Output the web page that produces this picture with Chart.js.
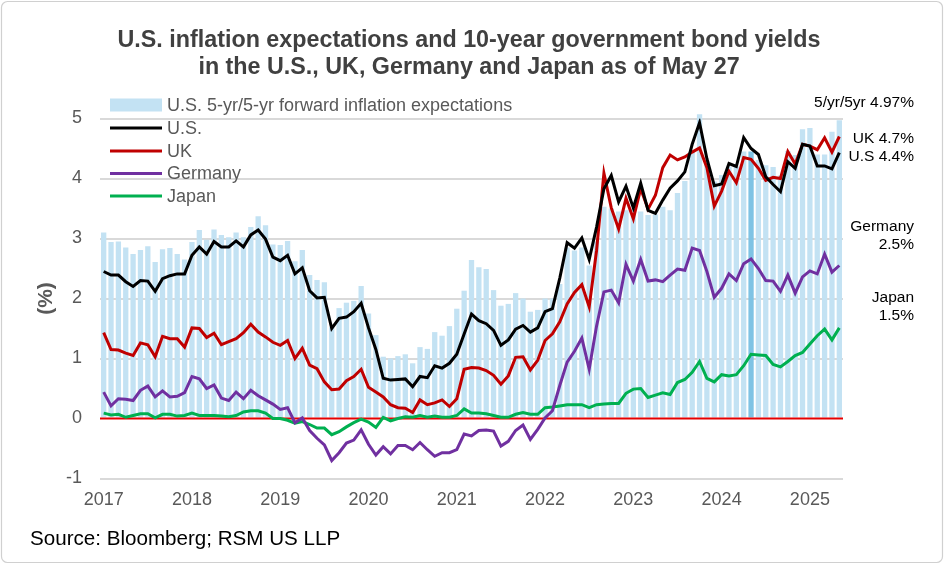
<!DOCTYPE html>
<html><head><meta charset="utf-8">
<script src="https://cdn.jsdelivr.net/npm/chart.js@4.4.1/dist/chart.umd.min.js"></script>
<style>html,body{margin:0;padding:0;background:#fff;} #wrap{position:relative;width:945px;height:565px;}</style>
</head><body><div id="wrap"><canvas id="c" width="945" height="565"></canvas></div>
<script>
// ---- Data ----
const years = ['2017','2018','2019','2020','2021','2022','2023','2024','2025'];
const lastMonth = '2025-05';
const highlightMonth = '2024-05';

const fwdInflation = [
  3.10,2.94,2.95,2.85,2.74,2.81,2.87,2.61,2.82,2.84,2.74,2.65,
  2.94,3.14,2.98,3.15,3.06,3.02,3.10,3.02,3.19,3.37,3.22,2.90,
  2.89,2.96,2.62,2.81,2.39,2.31,2.27,1.52,1.84,1.93,1.96,2.21,
  1.75,1.39,1.03,1.00,1.04,1.07,0.92,1.19,1.16,1.44,1.38,1.54,
  1.83,2.13,2.64,2.52,2.49,2.14,1.88,1.91,2.09,2.00,1.78,1.81,
  2.00,2.00,2.24,2.85,2.80,2.85,2.55,2.95,3.53,3.50,3.45,3.47,
  3.50,3.45,3.39,3.40,3.53,3.47,3.76,3.96,4.45,5.07,4.30,3.95,
  4.06,4.20,4.20,4.45,4.45,4.31,4.22,4.19,4.05,4.46,4.39,4.82,
  4.84,4.40,4.40,4.78,4.97
];
const usYield = [
  2.45,2.39,2.39,2.28,2.20,2.30,2.29,2.12,2.33,2.38,2.41,2.41,
  2.72,2.86,2.74,2.95,2.86,2.86,2.96,2.86,3.06,3.14,2.99,2.69,
  2.63,2.72,2.41,2.51,2.13,2.01,2.02,1.50,1.67,1.69,1.78,1.92,
  1.51,1.15,0.67,0.64,0.65,0.66,0.53,0.70,0.68,0.88,0.84,0.92,
  1.07,1.41,1.74,1.63,1.58,1.47,1.22,1.31,1.49,1.55,1.44,1.51,
  1.78,1.83,2.34,2.93,2.84,3.01,2.65,3.19,3.83,4.05,3.61,3.87,
  3.51,3.92,3.47,3.42,3.64,3.84,3.96,4.11,4.57,4.93,4.33,3.88,
  3.91,4.25,4.20,4.68,4.50,4.40,4.03,3.90,3.78,4.28,4.17,4.57,
  4.54,4.21,4.21,4.16,4.43
];
const ukYield = [
  1.43,1.15,1.14,1.09,1.05,1.26,1.23,1.03,1.37,1.33,1.33,1.19,
  1.51,1.50,1.35,1.42,1.23,1.28,1.33,1.43,1.57,1.44,1.36,1.27,
  1.22,1.30,1.00,1.17,0.89,0.83,0.61,0.48,0.49,0.63,0.70,0.82,
  0.52,0.44,0.36,0.23,0.18,0.17,0.10,0.31,0.23,0.26,0.31,0.20,
  0.33,0.82,0.85,0.84,0.80,0.72,0.57,0.71,1.02,1.03,0.81,0.97,
  1.30,1.41,1.61,1.91,2.10,2.23,1.86,2.80,4.09,3.51,3.16,3.67,
  3.33,3.83,3.49,3.72,4.18,4.39,4.31,4.36,4.44,4.51,4.18,3.54,
  3.79,4.12,3.93,4.35,4.32,4.17,3.97,4.02,4.00,4.45,4.24,4.57,
  4.54,4.48,4.68,4.44,4.70
];
const germanyYield = [
  0.44,0.21,0.33,0.32,0.30,0.47,0.54,0.36,0.46,0.36,0.37,0.43,
  0.70,0.66,0.50,0.56,0.34,0.30,0.44,0.33,0.47,0.38,0.31,0.24,
  0.15,0.18,-0.07,0.01,-0.20,-0.33,-0.44,-0.70,-0.57,-0.41,-0.36,-0.19,
  -0.43,-0.61,-0.47,-0.59,-0.45,-0.45,-0.52,-0.40,-0.52,-0.63,-0.57,-0.57,
  -0.52,-0.26,-0.29,-0.20,-0.19,-0.21,-0.46,-0.38,-0.20,-0.11,-0.35,-0.18,
  0.01,0.13,0.55,0.94,1.12,1.34,0.82,1.54,2.11,2.14,1.93,2.57,
  2.29,2.65,2.29,2.31,2.28,2.39,2.49,2.47,2.84,2.80,2.45,2.02,
  2.17,2.41,2.30,2.58,2.66,2.50,2.30,2.29,2.12,2.39,2.09,2.36,
  2.46,2.41,2.74,2.44,2.55
];
const japanYield = [
  0.09,0.06,0.07,0.02,0.05,0.08,0.08,0.01,0.07,0.07,0.04,0.05,
  0.09,0.05,0.05,0.05,0.04,0.03,0.05,0.11,0.13,0.13,0.09,0.00,
  0.00,-0.03,-0.08,-0.05,-0.10,-0.16,-0.16,-0.27,-0.22,-0.14,-0.07,-0.01,
  -0.06,-0.15,0.02,-0.04,0.00,0.03,0.02,0.05,0.02,0.04,0.02,0.02,
  0.05,0.16,0.09,0.09,0.08,0.05,0.02,0.02,0.07,0.10,0.07,0.07,
  0.18,0.19,0.21,0.23,0.23,0.23,0.18,0.23,0.24,0.25,0.25,0.42,
  0.49,0.50,0.35,0.39,0.43,0.40,0.60,0.65,0.77,0.95,0.67,0.61,
  0.73,0.71,0.73,0.88,1.07,1.06,1.05,0.90,0.86,0.95,1.05,1.10,
  1.24,1.38,1.49,1.31,1.51
];
const seriesNames = ['U.S. 5-yr/5-yr forward inflation expectations','U.S.','UK','Germany','Japan'];
const yTicks = [-1,0,1,2,3,4,5];
const titleLines = ['U.S. inflation expectations and 10-year government bond yields','in the U.S., UK, Germany and Japan as of May 27'];
const endLabels = [['5/yr/5yr 4.97%'],['UK 4.7%'],['U.S 4.4%'],['Germany','2.5%'],['Japan','1.5%']];
const sourceText = 'Source: Bloomberg; RSM US LLP';

// month categories
const months = [];
outer: for (const y of years) {
  for (let m = 1; m <= 12; m++) {
    const k = y + '-' + String(m).padStart(2,'0');
    months.push(k);
    if (k === lastMonth) break outer;
  }
}

const FONT = "'Liberation Sans', Arial, sans-serif";
const GRAY = '#595959';

const decor = {
  id: 'decor',
  beforeDraw(chart) {
    const ctx = chart.ctx;
    ctx.save();
    ctx.fillStyle = '#fff';
    ctx.fillRect(0, 0, chart.width, chart.height);
    ctx.strokeStyle = '#d0d0d0';
    ctx.lineWidth = 1.2;
    ctx.beginPath();
    if (ctx.roundRect) ctx.roundRect(1.5, 1.5, chart.width - 4, chart.height - 4, 6);
    else ctx.rect(1.5, 1.5, chart.width - 4, chart.height - 4);
    ctx.stroke();
    // title
    ctx.font = 'bold 23.3px ' + FONT;
    ctx.fillStyle = '#404040';
    ctx.textAlign = 'center';
    ctx.textBaseline = 'middle';
    titleLines.forEach((t, i) => ctx.fillText(t, 469, 40.5 + i * 27));
    ctx.restore();
  },
  afterDatasetDraw(chart, args) {
    if (args.meta.type !== 'bar') return;
    const ctx = chart.ctx, a = chart.chartArea;
    const y = chart.scales.y.getPixelForValue(0);
    ctx.save();
    ctx.strokeStyle = '#e60000';
    ctx.lineWidth = 2;
    ctx.beginPath();
    ctx.moveTo(a.left, y);
    ctx.lineTo(a.right, y);
    ctx.stroke();
    ctx.restore();
  },
  afterDraw(chart) {
    const ctx = chart.ctx;
    ctx.save();
    // legend
    const ds = chart.data.datasets;
    const rowY = [105, 128, 151, 173.5, 196];
    ctx.font = '18px ' + FONT;
    ctx.textBaseline = 'middle';
    ctx.textAlign = 'left';
    ds.forEach((d, i) => {
      const y = rowY[i];
      if (d.type === 'bar') {
        ctx.fillStyle = '#c3e2f3';
        ctx.fillRect(110, y - 6.5, 52, 13);
      } else {
        ctx.strokeStyle = d.borderColor;
        ctx.lineWidth = 3;
        ctx.beginPath();
        ctx.moveTo(110, y);
        ctx.lineTo(162, y);
        ctx.stroke();
      }
      ctx.fillStyle = GRAY;
      ctx.fillText(d.label, 167, y + 1);
    });
    // end labels
    const pos = [[103], [139], [156.5], [227, 245], [298, 316]];
    ctx.font = '15.5px ' + FONT;
    ctx.fillStyle = '#000';
    ctx.textAlign = 'right';
    endLabels.forEach((lines, i) => {
      lines.forEach((t, j) => ctx.fillText(t, 914, pos[i][j]));
    });
    // source
    ctx.font = '20.6px ' + FONT;
    ctx.textAlign = 'left';
    ctx.fillText(sourceText, 30, 539);
    ctx.restore();
  }
};

new Chart(document.getElementById('c'), {
  data: {
    labels: months,
    datasets: [
      {
        type: 'bar', label: seriesNames[0], data: fwdInflation, order: 10, clip: false,
        backgroundColor: ctx => months[ctx.dataIndex] === highlightMonth ? '#7fc3e4' : '#c3e2f3',
        barPercentage: 0.72, categoryPercentage: 1.0, borderWidth: 0
      },
      { type: 'line', label: seriesNames[1], data: usYield, borderColor: '#000000', order: 1 },
      { type: 'line', label: seriesNames[2], data: ukYield, borderColor: '#c00000', order: 1 },
      { type: 'line', label: seriesNames[3], data: germanyYield, borderColor: '#7030a0', order: 1 },
      { type: 'line', label: seriesNames[4], data: japanYield, borderColor: '#00b050', order: 1 }
    ]
  },
  options: {
    responsive: false,
    animation: false,
    devicePixelRatio: 1,
    layout: { padding: { left: 30, right: 102, top: 118.5, bottom: 0 } },
    elements: {
      line: { borderWidth: 3, tension: 0, fill: false, borderJoinStyle: 'miter' },
      point: { radius: 0, hoverRadius: 0 }
    },
    plugins: {
      legend: { display: false },
      tooltip: { enabled: false },
      title: { display: false }
    },
    scales: {
      x: {
        type: 'category', offset: true,
        grid: { display: false, drawTicks: false },
        border: { display: false },
        ticks: {
          autoSkip: false, maxRotation: 0, minRotation: 0, padding: 11,
          color: GRAY, font: { family: FONT, size: 18 },
          callback: (v, i) => {
            const k = months[i];
            return k.endsWith('-01') ? k.slice(0, 4) : '';
          }
        },
        afterFit: s => { s.height = 86.5; }
      },
      y: {
        min: yTicks[0], max: yTicks[yTicks.length - 1],
        afterBuildTicks: s => { s.ticks = yTicks.map(v => ({ value: v })); },
        grid: {
          drawTicks: false, lineWidth: 2,
          color: c => (c.tick && c.tick.value === 0) ? 'rgba(0,0,0,0)' : '#d9d9d9'
        },
        border: { display: false },
        ticks: { padding: 18, color: GRAY, font: { family: FONT, size: 18 } },
        title: { display: true, text: '(%)', color: GRAY, font: { family: FONT, size: 21, weight: 'bold' }, padding: { top: 4, bottom: 4 } },
        afterFit: s => { s.width = 70; }
      }
    }
  },
  plugins: [decor]
});
</script></body></html>
